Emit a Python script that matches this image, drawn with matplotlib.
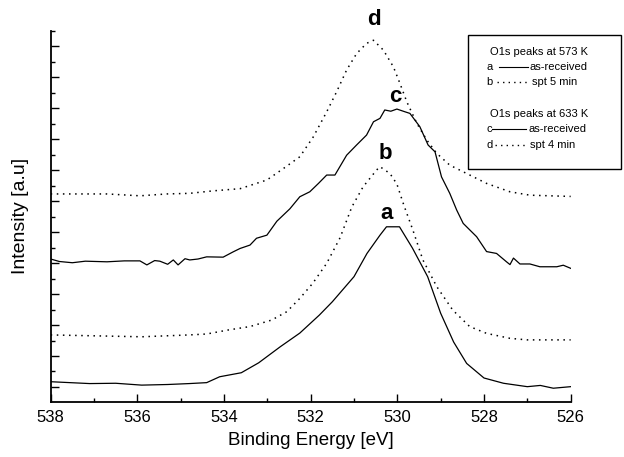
import numpy as np
import matplotlib
matplotlib.use("Agg")
import matplotlib.pyplot as plt
from matplotlib.patches import Rectangle
from matplotlib.lines import Line2D

plt.rcParams["font.family"] = ["Liberation Sans", "DejaVu Sans"]

# O1s spectra, binding energy [eV] vs intensity (arbitrary units, offset stacked)
be_a = [538.0, 537.1, 536.5, 535.9, 535.3, 534.8, 534.4, 534.1, 533.6, 533.2, 532.7,
        532.25, 531.8, 531.5, 531.0, 530.7, 530.4, 530.25, 529.95, 529.65, 529.3,
        529.0, 528.7, 528.4, 528.0, 527.55, 527.0, 526.7, 526.4, 526.0]
int_a = [0.17, 0.11, 0.12, 0.06, 0.08, 0.11, 0.14, 0.33, 0.46, 0.78, 1.30,
         1.74, 2.32, 2.75, 3.56, 4.31, 4.90, 5.17, 5.17, 4.48, 3.56,
         2.38, 1.45, 0.76, 0.29, 0.12, 0.01, 0.05, -0.04, 0.01]

be_b = [538.0, 535.9, 534.8, 534.4, 533.9, 533.4, 532.9, 532.55, 532.25, 531.95,
        531.63, 531.32, 531.05, 530.79, 530.48, 530.4, 530.17, 530.01, 529.85,
        529.64, 529.41, 529.09, 528.72, 528.33, 527.94, 527.4, 527.0, 526.0]
int_b = [1.68, 1.62, 1.68, 1.71, 1.84, 1.95, 2.16, 2.43, 2.86, 3.35,
         3.99, 4.82, 5.81, 6.46, 7.00, 7.11, 6.89, 6.55, 5.87,
         5.06, 4.10, 3.24, 2.48, 1.95, 1.73, 1.57, 1.52, 1.52]

be_c = [538.0, 537.8, 537.5, 537.2, 536.7, 536.3, 535.94, 535.78, 535.6, 535.48,
        535.3, 535.17, 535.06, 534.9, 534.79, 534.6, 534.4, 534.02, 533.79, 533.63,
        533.4, 533.25, 533.01, 532.78, 532.48, 532.25, 532.02, 531.82, 531.63, 531.44,
        531.17, 530.94, 530.71, 530.55, 530.4, 530.29, 530.15, 530.01, 529.82, 529.71,
        529.48, 529.29, 529.13, 528.98, 528.79, 528.63, 528.48, 528.17, 527.94, 527.71,
        527.48, 527.4, 527.32, 527.17, 526.94, 526.71, 526.32, 526.17, 526.0]
int_c = [4.13, 4.05, 4.01, 4.06, 4.04, 4.07, 4.07, 3.94, 4.08, 4.06,
         3.96, 4.10, 3.94, 4.14, 4.10, 4.13, 4.20, 4.19, 4.36, 4.47,
         4.58, 4.80, 4.90, 5.35, 5.75, 6.14, 6.30, 6.57, 6.84, 6.84,
         7.48, 7.81, 8.13, 8.56, 8.67, 8.94, 8.90, 8.97, 8.88, 8.83,
         8.40, 7.81, 7.59, 6.78, 6.25, 5.71, 5.28, 4.85, 4.37, 4.31,
         4.04, 3.95, 4.16, 3.97, 3.97, 3.88, 3.88, 3.93, 3.83]

be_d = [538.0, 536.7, 535.94, 535.32, 534.79, 534.25, 533.63, 533.01, 532.63, 532.25,
        531.94, 531.63, 531.4, 531.17, 530.94, 530.71, 530.55, 530.32, 530.09, 529.94,
        529.78, 529.55, 529.32, 529.09, 528.79, 528.4, 527.94, 527.4, 526.94, 526.0]
int_d = [6.23, 6.23, 6.17, 6.23, 6.25, 6.33, 6.40, 6.68, 7.05, 7.43,
         8.07, 8.88, 9.53, 10.23, 10.76, 11.09, 11.19, 10.87, 10.33, 9.80,
         9.20, 8.51, 7.97, 7.54, 7.16, 6.89, 6.57, 6.30, 6.19, 6.15]

peak_labels = ["a", "b", "c", "d"]
peak_label_pos = [(530.25, 5.61), (530.28, 7.55), (530.05, 9.36), (530.55, 11.87)]

x_ticks = [538, 536, 534, 532, 530, 528, 526]

fig = plt.figure(figsize=(6.24, 4.57), dpi=100)
ax = fig.add_axes([0.0812, 0.1204, 0.8333, 0.8125])

dotted = (0, (1, 3))
ax.plot(be_a, int_a, color="black", lw=0.9)
ax.plot(be_b, int_b, color="black", lw=1.1, linestyle=dotted)
ax.plot(be_c, int_c, color="black", lw=0.9)
ax.plot(be_d, int_d, color="black", lw=1.1, linestyle=dotted)

for lab, (x, y) in zip(peak_labels, peak_label_pos):
    ax.text(x, y, lab, fontsize=16, fontweight="bold", ha="center", va="center",
            clip_on=False)

ax.set_xlim(538, 526)
ax.set_ylim(-0.484, 11.49)
ax.set_xticks(x_ticks)
ax.set_xticks(np.arange(526, 539, 1), minor=True)
ax.set_yticks(np.arange(0, 12, 1))
ax.set_yticks(np.arange(0.5, 12, 1), minor=True)
ax.set_yticklabels([])
ax.tick_params(axis="both", which="major", direction="in", length=6, width=1.0,
               labelsize=12)
ax.tick_params(axis="both", which="minor", direction="in", length=3, width=1.0)
ax.tick_params(axis="x", which="major", pad=6)
for side in ["top", "right"]:
    ax.spines[side].set_visible(False)
for side in ["left", "bottom"]:
    ax.spines[side].set_linewidth(1.3)

ax.set_xlabel("Binding Energy [eV]", fontsize=13.5, labelpad=5)
ax.set_ylabel("Intensity [a.u]", fontsize=14, labelpad=12)

# legend box drawn by hand in figure pixels
W, H = 624.0, 457.0
def fx(px):
    return px / W
def fy(py):
    return 1 - py / H

fig.add_artist(Rectangle((fx(467.7), fy(169)), fx(621) - fx(467.7), fy(35) - fy(169),
                         transform=fig.transFigure, fill=False, lw=1.0, ec="black"))
leg_fs = 8
fig.text(fx(490), fy(51.7), "O1s peaks at 573 K", fontsize=leg_fs, va="center")
fig.text(fx(486.7), fy(66.7), "a", fontsize=leg_fs, va="center")
fig.add_artist(Line2D([fx(499), fx(528)], [fy(66.7), fy(66.7)], transform=fig.transFigure,
                      color="black", lw=0.8))
fig.text(fx(530), fy(66.7), "as-received", fontsize=leg_fs, va="center")
fig.text(fx(486.7), fy(82.3), "b", fontsize=leg_fs, va="center")
fig.add_artist(Line2D([fx(497), fx(529)], [fy(82.3), fy(82.3)], transform=fig.transFigure,
                      color="black", lw=1.0, linestyle=dotted))
fig.text(fx(531.7), fy(82.3), "spt 5 min", fontsize=leg_fs, va="center")

fig.text(fx(490), fy(114), "O1s peaks at 633 K", fontsize=leg_fs, va="center")
fig.text(fx(486.7), fy(129.3), "c", fontsize=leg_fs, va="center")
fig.add_artist(Line2D([fx(492), fx(526)], [fy(129.3), fy(129.3)], transform=fig.transFigure,
                      color="black", lw=0.8))
fig.text(fx(528.3), fy(129.3), "as-received", fontsize=leg_fs, va="center")
fig.text(fx(486.7), fy(145), "d", fontsize=leg_fs, va="center")
fig.add_artist(Line2D([fx(495), fx(528)], [fy(145), fy(145)], transform=fig.transFigure,
                      color="black", lw=1.0, linestyle=dotted))
fig.text(fx(530), fy(145), "spt 4 min", fontsize=leg_fs, va="center")

fig.savefig("out.png", dpi=100)
plt.close(fig)
